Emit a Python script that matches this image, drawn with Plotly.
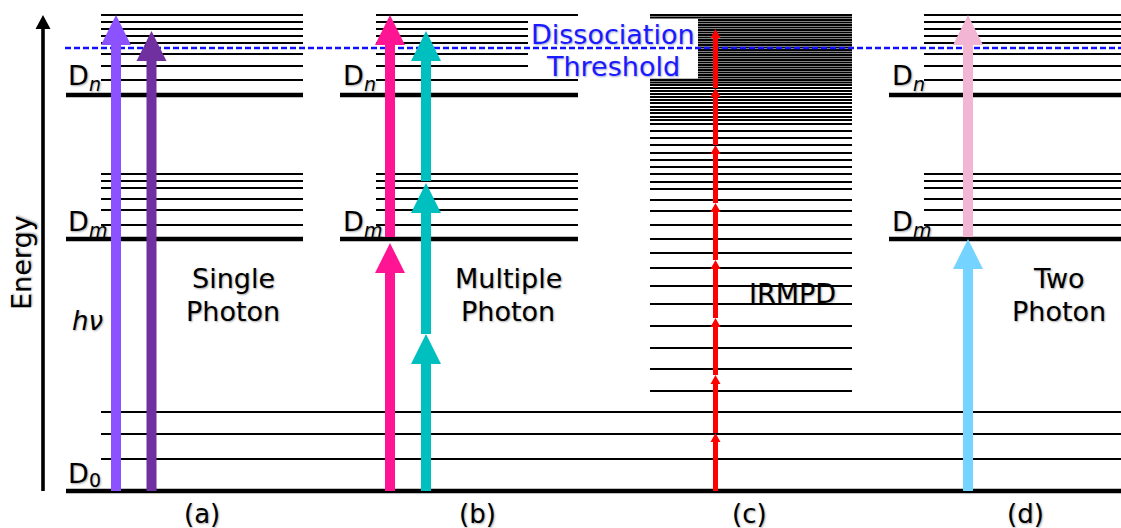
import plotly.graph_objects as go

# ---------------- data (energies in arbitrary units, D0 = 0) ----------------
D0_E = 0
ground_vib = [32, 57, 79]
Dm_E = 252
Dm_vib = [266, 281, 292, 303, 310, 317]
Dn_E = 396
Dn_vib = [411, 425, 437, 448, 455, 462, 469, 476]
threshold_E = 443

# IRMPD ladder (quasi-continuum becomes dense at high energy)
irmpd_levels = [100, 122, 143, 165, 187, 205, 223, 238, 252, 266, 280, 291, 302,
                309, 317, 324, 331, 338, 346, 353, 360, 367, 371, 374, 378, 381,
                384, 388, 391, 394, 397, 400, 403, 406, 408.5, 411, 413.5, 416,
                418.5, 421, 423.5, 426, 428.5, 431, 433.5, 436, 438.5, 441, 443.5,
                446, 448.5, 451, 453.5, 456, 458.5, 461, 463.5, 466, 468.5, 471,
                473.5, 476]

panel_labels = ["(a)", "(b)", "(c)", "(d)"]
panel_x = [202, 477, 749.5, 1025]

# photon transitions: (x, E_from, E_to, color)
single_photon = [(116, 0, 476, "#8C52FF"), (151.5, 0, 460, "#7030A0")]
multiple_photon = [(390, 0, 248, "#FF1493"), (390, 254, 476, "#FF1493"),
                   (426, 0, 157, "#00BFBF"), (426, 157, 308, "#00BFBF"),
                   (426, 310, 460, "#00BFBF")]
two_photon = [(968, 0, 252, "#75D3FF"), (968, 254, 476, "#F2B5D4")]
irmpd_tips = [58, 116, 173, 231, 288, 346, 403, 462]
irmpd_x = 715.5

fig = go.Figure()

THIN = 2.2
THICK = 4.6
BLACK = "#000000"


def hlines(xs0, xs1, ys, width, color=BLACK):
    X, Y = [], []
    for y in ys:
        X += [xs0, xs1, None]
        Y += [y, y, None]
    fig.add_trace(go.Scatter(x=X, y=Y, mode="lines",
                             line=dict(color=color, width=width),
                             hoverinfo="skip"))


# panel extents (x)
panels = {
    "a": dict(thin=(101, 303), thick=(66, 303)),
    "b": dict(thin=(376, 578), thick=(340, 578)),
    "d": dict(thin=(924, 1121), thick=(889, 1121)),
}
for p in panels.values():
    hlines(*p["thin"], Dn_vib, THIN)
    hlines(*p["thin"], Dm_vib, THIN)
    hlines(*p["thick"], [Dn_E, Dm_E], THICK)

# IRMPD ladder
dense = [e for e in irmpd_levels if e > 368]
sparse = [e for e in irmpd_levels if e <= 368]
hlines(650, 852, sparse, THIN)
hlines(650, 852, dense, 1.8)

# ground-state vibrational levels and D0
hlines(101, 1121, ground_vib, THIN)
hlines(66, 1121, [D0_E], THICK)

# white box behind the threshold label
fig.add_trace(go.Scatter(x=[528, 698, 698, 528, 528],
                         y=[472, 472, 412.5, 412.5, 472],
                         mode="lines", fill="toself", fillcolor="white",
                         line=dict(width=0, color="white"), hoverinfo="skip"))

# dissociation threshold
fig.add_trace(go.Scatter(x=[65, 1121], y=[threshold_E, threshold_E], mode="lines",
                         line=dict(color="#1010FF", width=2.3, dash="6px,3px"),
                         hoverinfo="skip"))


def arrow(x, e0, e1, color, w=10, hw=30, hl=30):
    eb = e1 - hl
    X = [x - w / 2, x - w / 2, x - hw / 2, x, x + hw / 2, x + w / 2, x + w / 2, x - w / 2]
    Y = [e0, eb, eb, e1, eb, eb, e0, e0]
    fig.add_trace(go.Scatter(x=X, y=Y, mode="lines", fill="toself",
                             fillcolor=color, line=dict(width=0, color=color),
                             hoverinfo="skip"))


for x, a, b, c in single_photon + multiple_photon + two_photon:
    arrow(x, a, b, c)

prev = 0
for t in irmpd_tips:
    arrow(irmpd_x, prev, t, "#FF0000", w=5, hw=10, hl=9)
    prev = t

# energy axis
arrow(43, 0, 476, BLACK, w=3.6, hw=15, hl=14)

# ---------------- text ----------------
FONT = "DejaVu Sans"
SH = "1px 1px 2px rgba(0,0,0,0.35)"


def txt(x, y, s, size=27, color=BLACK, xanchor="center", angle=0, shadow=SH):
    fig.add_annotation(x=x, y=y, text=s, showarrow=False, xanchor=xanchor,
                       yanchor="middle", textangle=angle,
                       font=dict(family=FONT, size=size, color=color, shadow=shadow))


def E(px):
    return 491 - px


txt(21, E(263), "Energy", angle=-90)
txt(87, E(321), "<i>hν</i>", size=26)

for xd in [66, 341, 890]:
    txt(xd, E(75.5), "D", xanchor="left")
    txt(xd + 20.5, E(84), "<i>n</i>", size=19, xanchor="left")
    txt(xd, E(221.5), "D", xanchor="left")
    txt(xd + 20.5, E(230), "<i>m</i>", size=19, xanchor="left")
txt(66, E(473), "D", xanchor="left")
txt(87, E(480), "0", size=19, xanchor="left")

txt(233, E(278), "Single")
txt(233, E(311), "Photon")
txt(508, E(278), "Multiple")
txt(508, E(311), "Photon")
txt(792, E(293), "IRMPD")
txt(1059, E(278), "Two")
txt(1059, E(311), "Photon")

txt(613, E(34), "Dissociation", color="#1A1AFF", shadow="1px 1px 2px rgba(0,0,120,0.35)")
txt(613, E(66), "Threshold", color="#1A1AFF", shadow="1px 1px 2px rgba(0,0,120,0.35)")

for lab, xp in zip(panel_labels, panel_x):
    txt(xp, E(514), lab, size=26)

fig.update_layout(
    width=1121, height=528,
    margin=dict(l=0, r=0, t=0, b=0),
    paper_bgcolor="white", plot_bgcolor="white",
    showlegend=False,
    xaxis=dict(range=[0, 1121], visible=False, fixedrange=True),
    yaxis=dict(range=[-37, 491], visible=False, fixedrange=True),
)

fig.write_html("out.html", config={"displayModeBar": False})

# remove the default page margin so the figure fills the window exactly
with open("out.html", "r", encoding="utf-8") as f:
    html = f.read()
html = html.replace("<head>", "<head><style>html,body{margin:0;padding:0;overflow:hidden;}</style>", 1)
with open("out.html", "w", encoding="utf-8") as f:
    f.write(html)
